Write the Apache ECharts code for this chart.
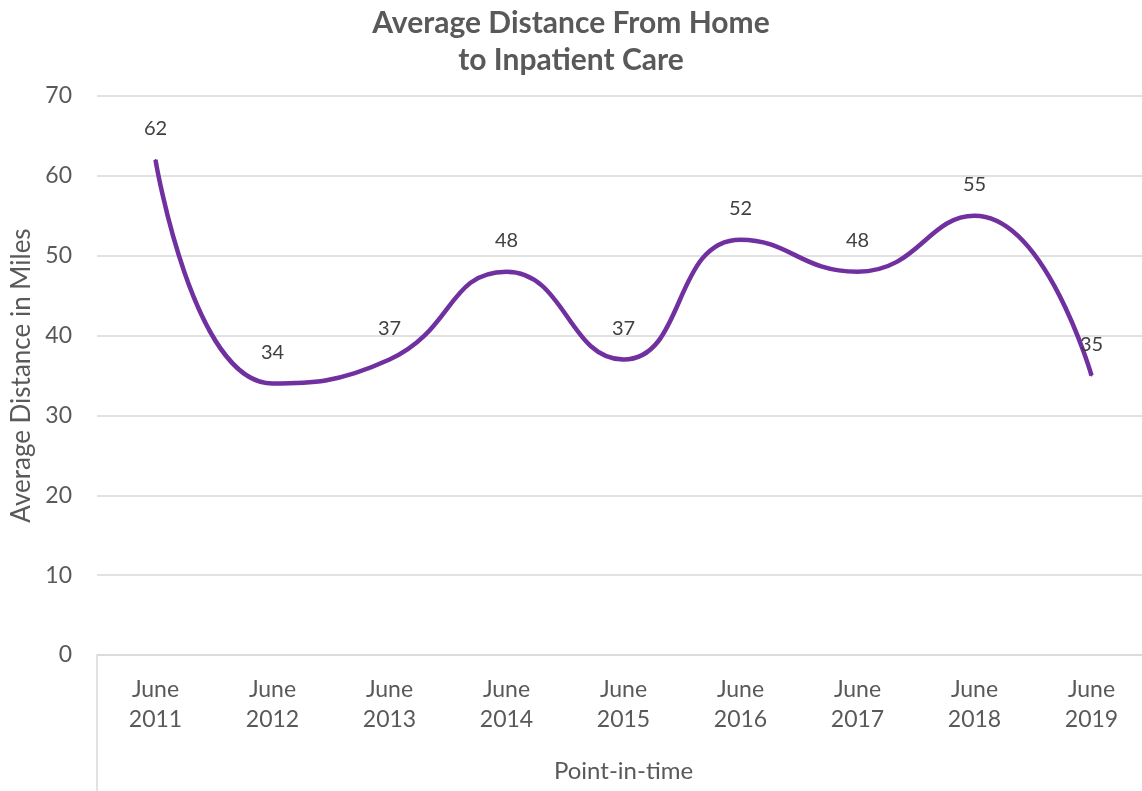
<!DOCTYPE html>
<html>
<head>
<meta charset="utf-8">
<script src="https://cdn.jsdelivr.net/npm/echarts@6/dist/echarts.min.js"></script>
<style>
  html, body { margin: 0; padding: 0; background: #fff; }
  #chart { width: 1142px; height: 791px; }
</style>
</head>
<body>
<div id="chart"></div>
<script>
// data
const categories = ["June\n2011", "June\n2012", "June\n2013", "June\n2014", "June\n2015",
  "June\n2016", "June\n2017", "June\n2018", "June\n2019"];
const distances = [62, 34, 37, 48, 37, 52, 48, 55, 35];
const yTicks = { min: 0, max: 70, interval: 10 };

const FONT = "Lato, 'Open Sans', sans-serif";
const chart = echarts.init(document.getElementById("chart"));

chart.setOption({
  animation: false,
  title: {
    text: "Average Distance From Home\nto Inpatient Care",
    left: "center",
    top: 0,
    textStyle: {
      fontFamily: FONT,
      fontSize: 30,
      fontWeight: "bold",
      color: "#595959",
      lineHeight: 37
    }
  },
  grid: { left: 97, top: 96, width: 1053, height: 559, outerBoundsMode: "none" },
  xAxis: {
    type: "category",
    data: categories,
    boundaryGap: true,
    axisLine: { lineStyle: { color: "#d9d9d9", width: 1.5 } },
    axisTick: { show: false },
    axisLabel: {
      color: "#595959",
      fontFamily: FONT,
      fontSize: 23,
      lineHeight: 30,
      margin: 20
    },
    name: "Point-in-time",
    nameLocation: "middle",
    nameGap: 104,
    nameTextStyle: { color: "#595959", fontFamily: FONT, fontSize: 24 }
  },
  yAxis: {
    type: "value",
    min: yTicks.min,
    max: yTicks.max,
    interval: yTicks.interval,
    axisLine: { show: false },
    axisTick: { show: false },
    splitLine: { lineStyle: { color: "#d9d9d9", width: 1.5 } },
    axisLabel: {
      color: "#595959",
      fontFamily: FONT,
      fontSize: 23,
      margin: 25
    },
    name: "Average Distance in Miles",
    nameLocation: "middle",
    nameGap: 55,
    nameTextStyle: { color: "#595959", fontFamily: FONT, fontSize: 26 }
  },
  graphic: [
    {
      type: "line",
      shape: { x1: 97, y1: 655, x2: 97, y2: 791 },
      style: { stroke: "#d9d9d9", lineWidth: 1.5 }
    }
  ],
  series: [
    {
      type: "line",
      data: distances,
      smooth: 0.5,
      showSymbol: true,
      symbol: "circle",
      symbolSize: 2,
      lineStyle: { color: "#7030A0", width: 4.5 },
      itemStyle: { color: "#7030A0" },
      label: {
        show: true,
        position: "top",
        distance: 20,
        color: "#404040",
        fontFamily: FONT,
        fontSize: 20
      }
    }
  ]
});
</script>
</body>
</html>
